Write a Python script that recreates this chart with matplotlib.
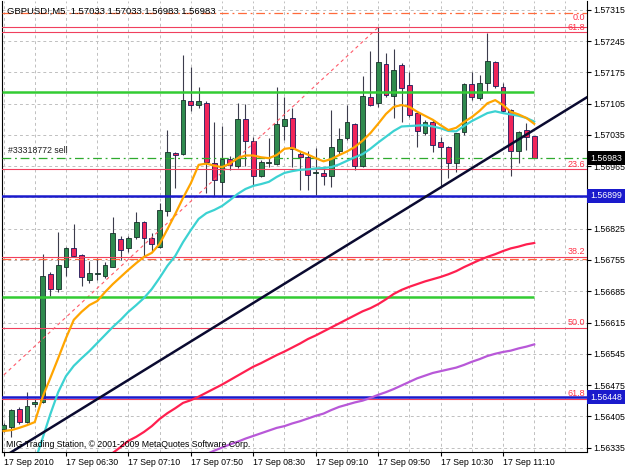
import numpy as np
import matplotlib
matplotlib.use('Agg')
import matplotlib.pyplot as plt
import matplotlib.transforms as mtrans
from matplotlib.ticker import MultipleLocator

plt.rcParams['font.family'] = ['Liberation Sans', 'DejaVu Sans']

# ---------------------------------------------------------------- data
# GBPUSD M5 bars, 17 Sep 2010 05:50 .. 11:30
opens = [1.56376, 1.56382, 1.56421, 1.56392, 1.56432, 1.56438, 1.56724, 1.56690, 1.56740, 1.56781,
         1.56766, 1.56710, 1.56724, 1.56720, 1.56740, 1.56802, 1.56781, 1.56807, 1.56839, 1.56805,
         1.56785, 1.56865, 1.56995, 1.56992, 1.57112, 1.57101, 1.57107, 1.56973, 1.56930, 1.56981,
         1.56966, 1.57070, 1.57022, 1.56943, 1.56973, 1.56970, 1.57055, 1.57072, 1.56992, 1.56986,
         1.56949, 1.56949, 1.56943, 1.56998, 1.57028, 1.57059, 1.56966, 1.57121, 1.57107, 1.57194,
         1.57122, 1.57192, 1.57147, 1.57085, 1.57040, 1.57065, 1.57020, 1.57007, 1.56972, 1.57042,
         1.57149, 1.57117, 1.57151, 1.57199, 1.57143, 1.57091, 1.56998, 1.57045, 1.57033]
highs = [1.56390, 1.56421, 1.56426, 1.56459, 1.56444, 1.56768, 1.56728, 1.56818, 1.56784, 1.56836,
         1.56768, 1.56753, 1.56759, 1.56751, 1.56852, 1.56809, 1.56809, 1.56863, 1.56842, 1.56815,
         1.56882, 1.57045, 1.56997, 1.57214, 1.57188, 1.57142, 1.57111, 1.57065, 1.57056, 1.56988,
         1.57106, 1.57104, 1.57031, 1.56979, 1.57028, 1.57143, 1.57121, 1.57095, 1.56999, 1.56998,
         1.57006, 1.56964, 1.57091, 1.57051, 1.57102, 1.57062, 1.57167, 1.57222, 1.57276, 1.57219,
         1.57227, 1.57196, 1.57177, 1.57087, 1.57069, 1.57069, 1.57031, 1.57010, 1.57039, 1.57151,
         1.57175, 1.57169, 1.57263, 1.57201, 1.57152, 1.57093, 1.57044, 1.57061, 1.57033]
lows = [1.56370, 1.56359, 1.56388, 1.56390, 1.56426, 1.56435, 1.56675, 1.56684, 1.56719, 1.56762,
        1.56697, 1.56703, 1.56710, 1.56715, 1.56739, 1.56755, 1.56773, 1.56801, 1.56762, 1.56773,
        1.56782, 1.56854, 1.56916, 1.56990, 1.57089, 1.57095, 1.56904, 1.56899, 1.56899, 1.56957,
        1.56960, 1.56966, 1.56921, 1.56941, 1.56964, 1.56968, 1.57024, 1.56964, 1.56912, 1.56912,
        1.56901, 1.56923, 1.56919, 1.56992, 1.57024, 1.56957, 1.56964, 1.57100, 1.57097, 1.57121,
        1.57073, 1.57065, 1.57076, 1.57008, 1.57035, 1.56997, 1.56919, 1.56939, 1.56953, 1.57035,
        1.57113, 1.57113, 1.57131, 1.57140, 1.57084, 1.56943, 1.56972, 1.57001, 1.56983]
closes = [1.56385, 1.56419, 1.56392, 1.56429, 1.56437, 1.56720, 1.56691, 1.56744, 1.56781, 1.56764,
          1.56716, 1.56725, 1.56726, 1.56744, 1.56815, 1.56777, 1.56805, 1.56839, 1.56804, 1.56790,
          1.56867, 1.56996, 1.56990, 1.57113, 1.57101, 1.57110, 1.56975, 1.56934, 1.56981, 1.56968,
          1.57070, 1.57022, 1.56942, 1.56974, 1.56974, 1.57059, 1.57070, 1.57003, 1.56985, 1.56945,
          1.56952, 1.56943, 1.57007, 1.57026, 1.57063, 1.56966, 1.57122, 1.57102, 1.57199, 1.57125,
          1.57181, 1.57140, 1.57080, 1.57044, 1.57065, 1.57013, 1.57007, 1.56972, 1.57039, 1.57149,
          1.57119, 1.57151, 1.57201, 1.57145, 1.57089, 1.56998, 1.57041, 1.57031, 1.56983]

# moving averages (nan = not on screen yet)
ma_orange = [1.56372, 1.56374, 1.56379, 1.56385, 1.56392, 1.56448, 1.56491, 1.56535, 1.56580, 1.56621,
             1.56639, 1.56654, 1.56663, 1.56683, 1.56701, 1.56717, 1.56733, 1.56748, 1.56762, 1.56771,
             1.56791, 1.56824, 1.56858, 1.56894, 1.56927, 1.56968, 1.56971, 1.56966, 1.56963, 1.56971,
             1.56983, 1.56989, 1.56989, 1.56985, 1.56983, 1.56990, 1.57004, 1.57006, 1.56998, 1.56991,
             1.56983, 1.56976, 1.56981, 1.56990, 1.56998, 1.57008, 1.57022, 1.57039, 1.57060, 1.57082,
             1.57098, 1.57102, 1.57098, 1.57087, 1.57078, 1.57069, 1.57057, 1.57046, 1.57051, 1.57064,
             1.57075, 1.57089, 1.57106, 1.57113, 1.57102, 1.57087, 1.57081, 1.57073, 1.57060]
ma_cyan = [np.nan] * 4 + [
             1.56303, 1.56356, 1.56410, 1.56459, 1.56495, 1.56518,
             1.56535, 1.56551, 1.56569, 1.56587, 1.56605, 1.56621, 1.56639, 1.56654, 1.56670, 1.56690,
             1.56715, 1.56742, 1.56764, 1.56795, 1.56822, 1.56847, 1.56860, 1.56867, 1.56876, 1.56889,
             1.56903, 1.56914, 1.56921, 1.56925, 1.56930, 1.56941, 1.56950, 1.56954, 1.56957, 1.56958,
             1.56960, 1.56961, 1.56963, 1.56969, 1.56977, 1.56985, 1.56992, 1.57004, 1.57018, 1.57031,
             1.57044, 1.57054, 1.57055, 1.57056, 1.57057, 1.57054, 1.57050, 1.57044, 1.57043, 1.57055,
             1.57066, 1.57075, 1.57084, 1.57088, 1.57084, 1.57081, 1.57078, 1.57073, 1.57065]
ma_red = [np.nan] * 14 + [
             1.56323, 1.56336, 1.56350, 1.56359, 1.56370, 1.56383,
             1.56399, 1.56412, 1.56423, 1.56435, 1.56441, 1.56449, 1.56458, 1.56467, 1.56476, 1.56486,
             1.56496, 1.56506, 1.56516, 1.56524, 1.56533, 1.56542, 1.56550, 1.56559, 1.56568, 1.56578,
             1.56586, 1.56595, 1.56604, 1.56613, 1.56622, 1.56631, 1.56640, 1.56647, 1.56656, 1.56667,
             1.56679, 1.56688, 1.56695, 1.56701, 1.56707, 1.56712, 1.56717, 1.56723, 1.56730, 1.56739,
             1.56747, 1.56755, 1.56762, 1.56768, 1.56775, 1.56781, 1.56785, 1.56790, 1.56793]
ma_purple = [np.nan] * 26 + [
             1.56320, 1.56328, 1.56335, 1.56342,
             1.56348, 1.56355, 1.56361, 1.56367, 1.56373, 1.56379, 1.56383, 1.56389, 1.56394, 1.56400,
             1.56406, 1.56411, 1.56419, 1.56426, 1.56431, 1.56436, 1.56440, 1.56446, 1.56453, 1.56459,
             1.56466, 1.56474, 1.56482, 1.56490, 1.56496, 1.56502, 1.56506, 1.56510, 1.56514, 1.56520,
             1.56527, 1.56533, 1.56540, 1.56545, 1.56549, 1.56552, 1.56557, 1.56561, 1.56566]

time_labels = ['17 Sep 2010', '17 Sep 06:30', '17 Sep 07:10', '17 Sep 07:50', '17 Sep 08:30',
               '17 Sep 09:10', '17 Sep 09:50', '17 Sep 10:30', '17 Sep 11:10']
label_bars = [0, 8, 16, 24, 32, 40, 48, 56, 64]
price_ticks = [1.56335, 1.56405, 1.56475, 1.56545, 1.56615, 1.56685, 1.56755, 1.56825,
               1.56895, 1.56965, 1.57035, 1.57105, 1.57175, 1.57245, 1.57315]

green_lines = [1.57132, 1.56671]
green_end_bar = 68
blue_lines = [1.56899, 1.56448]
fib_bars = [-35, 48]
fib_prices = [1.55929, 1.57276]      # 100% .. 0%
fib_levels = [0.0, 23.6, 38.2, 50.0, 61.8]
fib2_price = 1.57265                 # second fib, its 61.8 level
order_open, order_sl, order_tp = 1.56984, 1.57308, 1.56757
trend_bars = [0, 75]
trend_prices = [1.56314, 1.57122]
bid = 1.56983

# ---------------------------------------------------------------- plot
fig = plt.figure(figsize=(6.25, 4.69), dpi=100)
ax = fig.add_axes([2 / 625, 17 / 469, 584.5 / 625, 451 / 469])
ax.set_xlim(-0.2, 74.7)
ax.set_ylim(1.56325, 1.57335)

o, h, l, c = (np.array(a) for a in (opens, highs, lows, closes))
x = np.arange(len(o))
up = c >= o
ax.vlines(x, l, h, color='#3c3c4c', lw=0.8, zorder=2)
body = np.maximum(np.abs(c - o), 0.000015)
ax.bar(x, body, bottom=np.minimum(o, c), width=0.62,
       color=np.where(up, '#2f8a4e', '#f0245a'),
       edgecolor=np.where(up, '#17302a', '#1a1a5a'), lw=0.6, zorder=3)

trans = mtrans.blended_transform_factory(ax.transAxes, ax.transData)

# fibonacci
fib_range = fib_prices[1] - fib_prices[0]
for lvl in fib_levels:
    p = fib_prices[1] - lvl / 100 * fib_range
    ax.axhline(p, color='#f0405e', lw=0.8, zorder=4)
    lift = 3.5 if lvl == 0.0 else 0.5
    ax.annotate(f'{lvl:.1f}', xy=(0.9974, p), xycoords=trans, xytext=(0, lift),
                textcoords='offset points', ha='right', va='bottom',
                color='#ff3348', fontsize=6.5, zorder=6)
ax.axhline(fib2_price, color='#f0405e', lw=0.8, zorder=4)
ax.annotate('61.8', xy=(0.9974, fib2_price), xycoords=trans, xytext=(0, 0.5),
            textcoords='offset points', ha='right', va='bottom',
            color='#ff3348', fontsize=6.5, zorder=6)
ax.plot(fib_bars, fib_prices, color='#ff5a6a', lw=0.8, ls=(0, (3, 3)), zorder=4)

# order lines
ax.axhline(order_open, color='#2eaa2e', lw=0.9, ls=(0, (7, 3, 1.5, 3)), zorder=4)
for p in (order_sl, order_tp):
    ax.axhline(p, color='#ff6a3a', lw=0.9, ls=(0, (7, 3, 1.5, 3)), zorder=4)
ax.annotate('#33318772 sell', xy=(0.0103, order_open), xycoords=trans,
            xytext=(0, 2.2), textcoords='offset points', fontsize=6.3,
            va='bottom', color='#202020', zorder=6)

# horizontal levels
for p in green_lines:
    ax.hlines(p, -0.2, green_end_bar, color='#33cc33', lw=1.8, zorder=4)
for p in blue_lines:
    ax.axhline(p, color='#1a1acc', lw=1.8, zorder=4)

# indicators
ax.plot(x, ma_purple, color='#b858d8', lw=1.6, zorder=5)
ax.plot(x, ma_red, color='#ff1f4f', lw=1.6, zorder=5)
ax.plot(x, ma_cyan, color='#3cd2d2', lw=1.6, zorder=5)
ax.plot(x, ma_orange, color='#ffa500', lw=1.6, zorder=5)
ax.plot(trend_bars, trend_prices, color='#0a0a30', lw=1.8, zorder=5)

# axes; the 1.56895 label sits under the 1.56899 marker, so leave it blank
ax.yaxis.tick_right()
ax.set_yticks(price_ticks)
ax.set_yticklabels(['' if abs(p - blue_lines[0]) < 0.0001 else f'{p:.5f}'
                    for p in price_ticks])
ax.set_xticks(label_bars)
ax.set_xticklabels(time_labels)
for lbl in ax.get_xticklabels():
    lbl.set_ha('left')
ax.xaxis.set_minor_locator(MultipleLocator(4))
ax.tick_params(axis='y', length=3, pad=2, labelsize=6.3, width=0.8)
ax.tick_params(axis='x', length=3, pad=1.5, labelsize=6.3, width=0.8)
ax.tick_params(axis='x', which='minor', length=0)
ax.grid(True, which='both', axis='x', color='#c0c0c0', ls=(0, (3, 3)), lw=0.7)
ax.grid(True, axis='y', color='#c0c0c0', ls=(0, (3, 3)), lw=0.7)
ax.set_axisbelow(True)
ax.spines['top'].set_visible(False)
for s in ('left', 'right', 'bottom'):
    ax.spines[s].set_linewidth(0.8)

# price labels on the scale
for p, fc in [(bid, '#000000'), (blue_lines[0], '#1a1acc'), (blue_lines[1], '#1a1acc')]:
    ax.text(1.006, p, f'{p:.5f}', transform=trans, color='white', fontsize=6.3,
            va='center', ha='left', clip_on=False, zorder=10,
            bbox=dict(boxstyle='square,pad=0.3', fc=fc, ec='none'))

fig.text(7 / 625, 1 - 11 / 469, 'GBPUSD!,M5  1.57033 1.57033 1.56983 1.56983',
         fontsize=6.8, va='center')
fig.text(6 / 625, 1 - 444 / 469,
         'MIG Trading Station, \u00a9 2001-2009 MetaQuotes Software Corp.',
         fontsize=6.3, va='center')

fig.savefig('out.png', dpi=100)
